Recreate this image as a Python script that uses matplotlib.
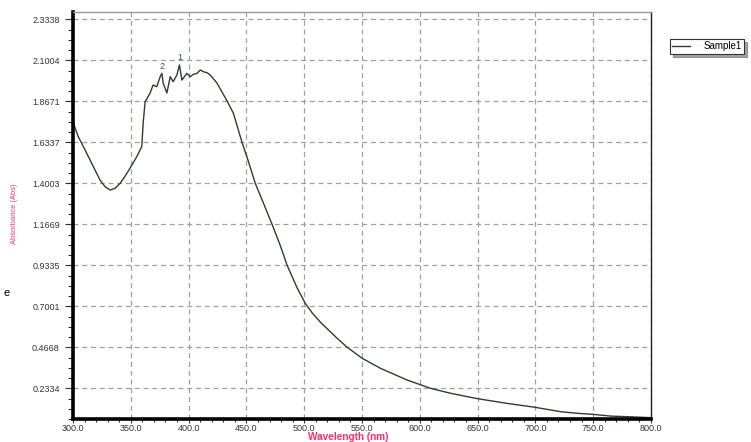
import matplotlib
matplotlib.use("Agg")
import matplotlib.pyplot as plt
from matplotlib.ticker import AutoMinorLocator, FixedLocator

plt.rcParams["font.family"] = ["Liberation Sans", "DejaVu Sans"]

# spectrum (nm, Abs)
wavelength = [300.0, 302.6, 304.6, 307.5, 311.9, 316.2, 320.5, 323.4, 327.7, 332.1,
              336.4, 340.7, 345.0, 349.4, 355.2, 359.5, 360.7, 362.4, 366.7, 369.3,
              372.5, 375.4, 376.9, 378.0, 381.2, 384.1, 386.7, 389.9, 392.1, 394.2,
              398.5, 401.4, 404.0, 407.2, 410.1, 413.0, 415.9, 418.7, 424.5, 433.2,
              438.7, 446.2, 450.5, 457.7, 464.9, 472.2, 479.4, 485.2, 493.9, 501.0,
              507.0, 514.1, 528.5, 537.2, 550.2, 566.0, 589.2, 609.4, 626.7, 648.4,
              675.0, 700.0, 722.0, 736.5, 750.0, 765.4, 782.7, 800.0]
absorbance = [1.750, 1.700, 1.665, 1.628, 1.571, 1.514, 1.457, 1.419, 1.381, 1.362,
              1.372, 1.400, 1.440, 1.487, 1.552, 1.610, 1.743, 1.865, 1.914, 1.960,
              1.950, 2.007, 2.026, 1.971, 1.914, 2.007, 1.979, 2.017, 2.074, 1.988,
              2.026, 2.007, 2.020, 2.026, 2.045, 2.035, 2.030, 2.017, 1.971, 1.870,
              1.800, 1.634, 1.550, 1.400, 1.285, 1.167, 1.045, 0.934, 0.805, 0.716,
              0.662, 0.609, 0.518, 0.467, 0.404, 0.347, 0.280, 0.233, 0.205, 0.176,
              0.148, 0.125, 0.100, 0.091, 0.085, 0.075, 0.071, 0.066]

peak_labels = ["1", "2"]
peak_x = [392.1, 376.9]
peak_y = [2.074, 2.026]

x_ticks = [300, 350, 400, 450, 500, 550, 600, 650, 700, 750, 800]
y_ticks = [0.2334, 0.4668, 0.7001, 0.9335, 1.1669, 1.4003, 1.6337, 1.8671, 2.1004, 2.3338]

fig = plt.figure(figsize=(7.51, 4.42), dpi=100)
ax = fig.add_axes([0.0972, 0.0514, 0.7696, 0.9221])

ax.plot(wavelength, absorbance, color="#2f3d2f", lw=1.0, label="Sample1")
for lab, px, py in zip(peak_labels, peak_x, peak_y):
    ax.annotate(lab, (px, py), xytext=(0, 2), textcoords="offset points",
                ha="center", va="bottom", fontsize=6.5, color="#3a4a8a")

ax.set_xlim(300, 800)
ax.set_ylim(0.057, 2.377)
ax.xaxis.set_major_locator(FixedLocator(x_ticks))
ax.yaxis.set_major_locator(FixedLocator(y_ticks))
ax.set_xticklabels([f"{v:.1f}" for v in x_ticks])
ax.set_yticklabels([f"{v:.4f}" for v in y_ticks])
ax.xaxis.set_minor_locator(AutoMinorLocator(5))
ax.yaxis.set_minor_locator(AutoMinorLocator(4))
ax.tick_params(which="both", labelsize=6.5, labelcolor="#33334a", direction="out", color="#333333")
ax.tick_params(axis="y", which="major", length=6, width=0.8)
ax.tick_params(axis="y", which="minor", length=3.5, width=0.8)
ax.tick_params(axis="x", which="major", length=3, width=0.8, pad=0.5)
ax.tick_params(axis="x", which="minor", length=2.5, width=0.8)

ax.grid(True, which="major", ls=(0, (4, 3)), color="#a0a0a0", lw=0.9)

for s in ("left", "bottom"):
    ax.spines[s].set_linewidth(2.6)
    ax.spines[s].set_color("black")
ax.spines["right"].set_linewidth(1.0)
ax.spines["right"].set_color("#222222")
ax.spines["top"].set_linewidth(1.0)
ax.spines["top"].set_color("#999999")

ax.set_xlabel("Wavelength (nm)", color="#ff2d6f", fontsize=7.2, fontweight="bold")
ax.xaxis.set_label_coords(0.476, -0.031)
fig.text(0.019, 0.517, "Absorbance (Abs)", rotation=90, color="#ff2d6f", fontsize=5.4,
         ha="center", va="center",
         family=["Liberation Sans Narrow", "Liberation Sans", "DejaVu Sans"])
fig.text(0.004, 0.337, "e", fontsize=8, color="black", ha="left", va="center")

leg = ax.legend(loc="upper left", bbox_to_anchor=(670 / 751, 1 - 39 / 442),
                bbox_transform=fig.transFigure, fontsize=7.0, frameon=True,
                fancybox=False, shadow=True, borderpad=0.25, handlelength=1.8,
                handletextpad=1.4, borderaxespad=0)
leg.get_frame().set_edgecolor("#333333")
leg.get_frame().set_linewidth(0.8)

fig.savefig("out.png", dpi=100)
